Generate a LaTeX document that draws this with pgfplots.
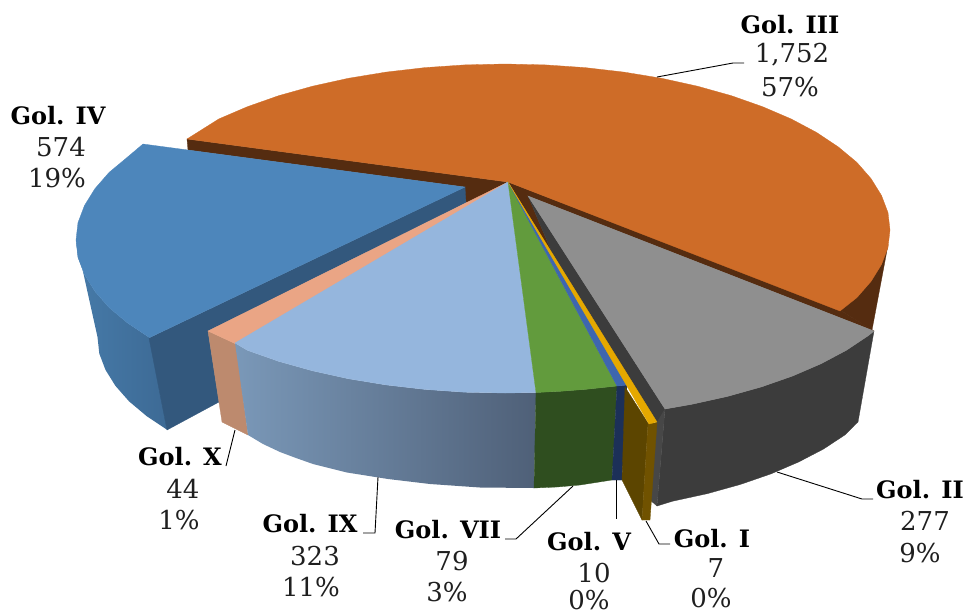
\documentclass[border=0pt]{standalone}
\usepackage{fontspec}
\usepackage{pgfplots}
\pgfplotsset{compat=1.18}
\newfontfamily\headfont{DejaVu Serif}
\definecolor{cBrown}{HTML}{552C10}
\definecolor{cOrange}{HTML}{CE6C28}
\definecolor{cBlueT}{HTML}{4D86BB}
\definecolor{cBlueW}{HTML}{33587D}
\definecolor{cBlueFa}{HTML}{467AA8}
\definecolor{cBlueFb}{HTML}{3D6A95}
\definecolor{cGrayT}{HTML}{8F8F8F}
\definecolor{cGrayF}{HTML}{3C3C3C}
\definecolor{cGrayB}{HTML}{474747}
\definecolor{cSalT}{HTML}{EAA585}
\definecolor{cSalF}{HTML}{BD8A6E}
\definecolor{cSkyT}{HTML}{95B6DD}
\definecolor{cSkyFa}{HTML}{7A98B8}
\definecolor{cSkyFb}{HTML}{4F6078}
\definecolor{cGrnT}{HTML}{629B3D}
\definecolor{cGrnF}{HTML}{2F4E1F}
\definecolor{cNavT}{HTML}{3E66AF}
\definecolor{cNavF}{HTML}{1C3058}
\definecolor{cYelT}{HTML}{E5A800}
\definecolor{cYelF}{HTML}{5C4500}
\definecolor{cYelO}{HTML}{705200}
\pgfplotsset{
  pz/.style={fill=#1,draw=#1,line width=.3pt,mark=none,forget plot},
  ldr/.style={draw=black,line width=.9pt,mark=none,forget plot},
}
\newcommand{\hd}[3]{\node[font=\headfont\fontsize{24}{24}\selectfont\bfseries,text=black] at (axis cs:#1,#2) {#3};}
\newcommand{\vl}[3]{\node[font=\headfont\fontsize{26}{26}\selectfont,text=black!88] at (axis cs:#1,#2) {#3};}
\begin{document}
\begin{tikzpicture}
\path[use as bounding box,clip] (0,0) rectangle (966pt,614pt);
\begin{axis}[
  at={(0,0)},anchor=south west,
  scale only axis,width=966pt,height=614pt,
  xmin=0,xmax=966,ymin=0,ymax=614,y dir=reverse,
  hide axis,clip=false]
% Gol. III walls
\addplot[pz=cBrown] coordinates {(888,245)(872,330)(840,310)(857,297)(871,281)(881,264)} --cycle;
\addplot[pz=cBrown] coordinates {(187,139)(188,150)(465,187)(465,203)(480,197)(508,182)} --cycle;
\addplot[pz=cBrown] coordinates {(508,182)(840,310)(874,331)(528,196)(553,255)} --cycle;
% Gol. III top
\addplot[pz=cOrange] coordinates {(187,139)(218.9,118.9)(247.4,106.7)(278.6,95.7)(312.5,86.2)(348.3,78.3)(386,72.1)(425,67.6)(464.6,64.9)(505,64)(545.4,64.9)(585,67.6)(624,72.1)(661.7,78.3)(697.5,86.2)(731.4,95.7)(762.6,106.7)(791.1,118.9)(816.5,132.4)(838.4,147)(856.9,162.4)(871.1,178.7)(881.5,195.5)(888,212.6)(890,230)(888,247.4)(881.5,264.5)(871.1,281.3)(856.9,297.6)(840,311)(508,182)} --cycle;
% Gol. IV
\addplot[draw=none,left color=cBlueFa,right color=cBlueFb,mark=none,forget plot] coordinates {(76,240)(97.5,337)(99.3,353.6)(105.5,369.9)(115.4,385.8)(129,401.3)(146.5,416)(167.4,430)(149.5,337.6)(127.6,323)(109.1,307.6)(94.9,291.3)(84.5,274.5)(78,257.4)} --cycle;
\addplot[pz=cBlueW] coordinates {(465,187)(466,203)(208,331)(219,402)(167,430)(149,338)} --cycle;
\addplot[pz=cBlueT] coordinates {(143,144)(127.6,157)(109.1,172.4)(94.9,188.7)(84.5,205.5)(78,222.6)(76,240)(78,257.4)(84.5,274.5)(94.9,291.3)(109.1,307.6)(127.6,323)(149.5,337.6)(465,187)} --cycle;
% Gol. II
\addplot[pz=cGrayF] coordinates {(528,196)(665,409)(657,425)(553,255)} --cycle;
\addplot[pz=cGrayF] coordinates {(665,409)(691.7,404.3)(727.5,396.4)(761.4,386.9)(792.6,376)(821.1,363.7)(846.5,350.2)(868.4,335.6)(874,331)(858,422)(844.8,435)(823.4,449.1)(798.6,462)(770.9,473.9)(740.5,484.4)(707.5,493.6)(672.6,501.2)(657,506)} --cycle;
\addplot[pz=cGrayB] coordinates {(656,424)(665,409)(657,506)(650,500)} --cycle;
\addplot[pz=cGrayT] coordinates {(528,196)(874,331)(868.4,335.6)(846.5,350.2)(821.1,363.7)(792.6,376)(761.4,386.9)(727.5,396.4)(691.7,404.3)(665,409)} --cycle;
% Gol. X
\addplot[pz=cSalF] coordinates {(208,331)(236,344)(248,435)(222,422)} --cycle;
\addplot[pz=cSalT] coordinates {(508,182)(208,331)(236,344)} --cycle;
% Gol. IX
\addplot[draw=none,left color=cSkyFa,right color=cSkyFb,mark=none,forget plot] coordinates {(235,343)(247.4,350.3)(278.6,361.3)(312.5,370.8)(348.3,378.7)(386,384.9)(425,389.4)(464.6,392.2)(505,393)(536,392.5)(534,488)(480,487.5)(430,484)(388,479)(347,472.5)(313,464)(296,458)(280,452)(263,444)(248,435)} --cycle;
\addplot[pz=cSkyT] coordinates {(508,182)(235,343)(247.4,350.3)(278.6,361.3)(312.5,370.8)(348.3,378.7)(386,384.9)(425,389.4)(464.6,392.2)(505,393)(536,392.5)} --cycle;
% Gol. VII
\addplot[pz=cGrnF] coordinates {(536,392.5)(560,391.3)(585,389.4)(617,386)(612,480)(580,485)(557,487)(534,488)} --cycle;
\addplot[pz=cGrnT] coordinates {(508,182)(536,392.5)(560,391.3)(585,389.4)(617,386)} --cycle;
% Gol. V
\addplot[pz=cNavF] coordinates {(617,386)(627,385)(622,480)(612,480)} --cycle;
\addplot[pz=cNavT] coordinates {(508,182)(617,386)(627,385)} --cycle;
% Gol. I
\addplot[pz=cYelF] coordinates {(625,387)(648,423)(642,520)(622,480)} --cycle;
\addplot[pz=cYelO] coordinates {(648,423)(657,423)(650,520)(642,520)} --cycle;
\addplot[pz=cYelT] coordinates {(508,182)(657,422)(649,424)} --cycle;
% leader lines
\addplot[ldr] coordinates {(657,77)(733,63)(744,63)};
\addplot[ldr] coordinates {(777,472)(862,499)(873,499)};
\addplot[ldr] coordinates {(235,430)(226,466)};
\addplot[ldr] coordinates {(378,477)(375,533)(363,533)};
\addplot[ldr] coordinates {(573,486)(516,539)(505,539)};
\addplot[ldr] coordinates {(616,480)(616,519)};
\addplot[ldr] coordinates {(646,521)(659,544)(670,544)};
% labels
\hd{790}{25}{Gol. III}\vl{792}{55}{1,752}\vl{790}{87}{57\%}
\hd{58}{116}{Gol. IV}\vl{61}{147}{574}\vl{57}{178}{19\%}
\hd{180}{457}{Gol. X}\vl{183}{489}{44}\vl{179}{520}{1\%}
\hd{310}{524}{Gol. IX}\vl{315}{556}{323}\vl{311}{587}{11\%}
\hd{448}{530}{Gol. VII}\vl{452}{561}{79}\vl{447}{592}{3\%}
\hd{589}{542}{Gol. V}\vl{594}{573}{10}\vl{589}{600}{0\%}
\hd{712}{539}{Gol. I}\vl{716}{568}{7}\vl{711}{598}{0\%}
\hd{920}{490}{Gol. II}\vl{925}{521}{277}\vl{920}{553}{9\%}
\end{axis}
\end{tikzpicture}
\end{document}
